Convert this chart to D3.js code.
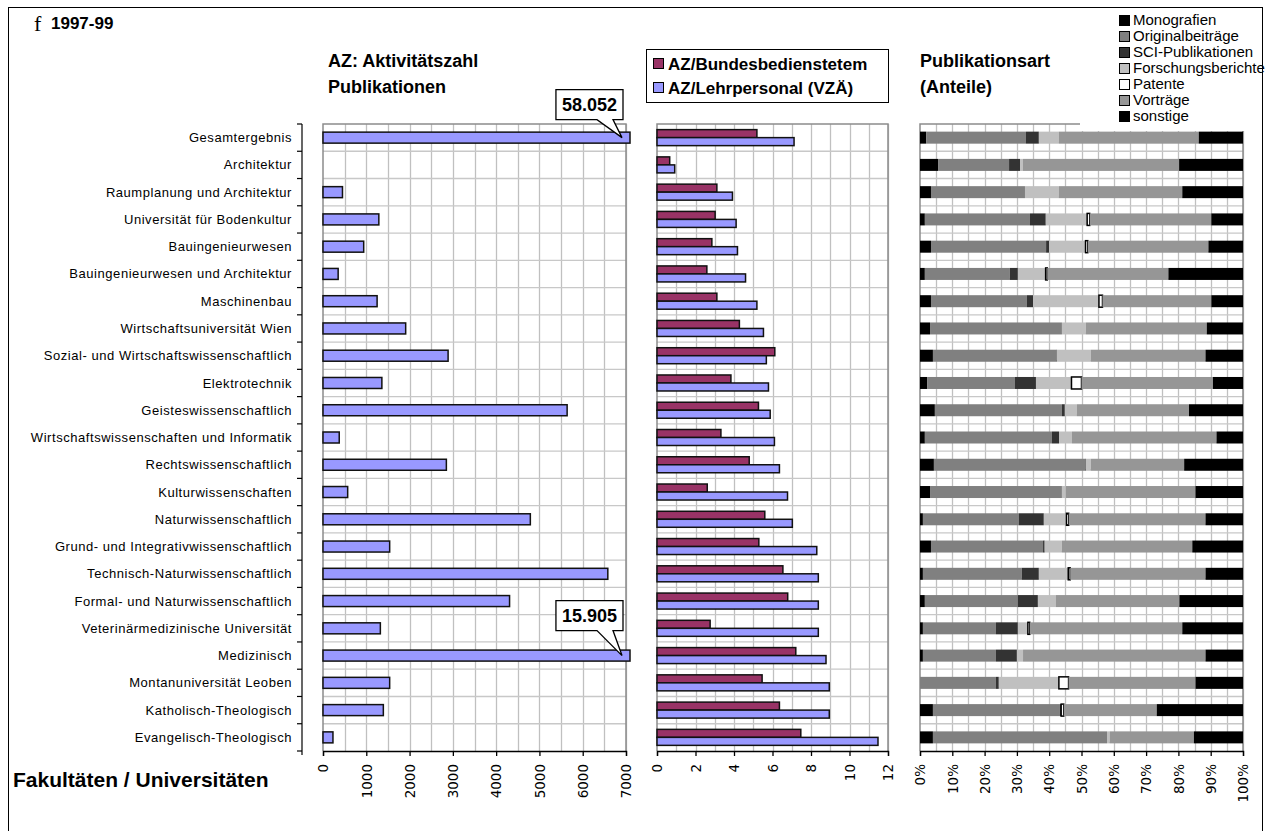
<!DOCTYPE html>
<html>
<head>
<meta charset="utf-8">
<script src="https://cdn.jsdelivr.net/npm/d3@7"></script>
<style>
  body { margin: 0; background: #fff; }
  text { font-family: "Liberation Sans", Arial, sans-serif; }
  .narrow { font-family: "Liberation Sans Narrow", "Arial Narrow", "Liberation Sans", sans-serif; font-weight: bold; }
</style>
</head>
<body>
<div id="chart"></div>
<script>
// data
var categories = ["Gesamtergebnis", "Architektur", "Raumplanung und Architektur", "Universität für Bodenkultur",
  "Bauingenieurwesen", "Bauingenieurwesen und Architektur", "Maschinenbau", "Wirtschaftsuniversität Wien",
  "Sozial- und Wirtschaftswissenschaftlich", "Elektrotechnik", "Geisteswissenschaftlich",
  "Wirtschaftswissenschaften und Informatik", "Rechtswissenschaftlich", "Kulturwissenschaften",
  "Naturwissenschaftlich", "Grund- und Integrativwissenschaftlich", "Technisch-Naturwissenschaftlich",
  "Formal- und Naturwissenschaftlich", "Veterinärmedizinische Universität", "Medizinisch",
  "Montanuniversität Leoben", "Katholisch-Theologisch", "Evangelisch-Theologisch"];

var azValues = [58052, 0, 450, 1290, 940, 350, 1250, 1910, 2890, 1360, 5640, 375, 2850, 570,
  4790, 1540, 6580, 4310, 1325, 15905, 1540, 1394, 230];

var azBund = [5.19, 0.66, 3.11, 3.02, 2.85, 2.59, 3.11, 4.28, 6.12, 3.84, 5.27, 3.32, 4.79, 2.61,
  5.6, 5.29, 6.54, 6.79, 2.76, 7.21, 5.46, 6.36, 7.47];
var azLehr = [7.12, 0.92, 3.92, 4.11, 4.18, 4.6, 5.19, 5.53, 5.68, 5.79, 5.88, 6.1, 6.36, 6.78,
  7.03, 8.3, 8.38, 8.38, 8.38, 8.78, 8.95, 8.95, 11.48];

var pubTypes = ["Monografien", "Originalbeiträge", "SCI-Publikationen", "Forschungsberichte", "Patente", "Vorträge", "sonstige"];
var monografien = [1.9, 5.6, 3.4, 1.5, 3.4, 1.5, 3.4, 3.1, 4.0, 2.2, 4.6, 1.5, 4.3, 3.1, 0.9, 3.4, 0.9, 1.5, 0.9, 0.9, 0, 4.0, 4.0];
var originalbeitraege = [30.9, 22.0, 29.1, 32.5, 35.6, 26.3, 29.7, 40.8, 38.1, 27.2, 39.3, 39.3, 46.8, 40.8, 29.7, 34.7, 30.6, 28.8, 22.6, 22.6, 23.5, 39.3, 53.9];
var sciPublikationen = [4.0, 3.4, 0, 4.9, 0.9, 2.5, 1.9, 0, 0.2, 6.5, 0.9, 2.2, 0.2, 0, 7.7, 0.5, 5.3, 6.2, 6.8, 6.5, 0.9, 0.4, 0];
var forschungsberichte = [6.2, 0.9, 10.5, 12.8, 11.3, 8.6, 20.4, 7.4, 10.5, 11.0, 3.7, 4.0, 1.5, 1.2, 7.0, 5.3, 9.1, 5.6, 3.1, 1.9, 18.6, 0, 0.8];
var patente = [0, 0, 0, 0.8, 0.7, 0.5, 1.1, 0, 0, 3.1, 0, 0, 0, 0, 0.7, 0, 0.6, 0, 0.6, 0, 3.0, 0.8, 0];
var vortraege = [43.3, 48.4, 38.2, 37.6, 37.3, 37.5, 33.7, 37.4, 35.5, 40.7, 34.7, 44.7, 28.9, 40.1, 42.3, 40.4, 41.9, 38.2, 47.2, 56.5, 39.3, 28.8, 26.1];
var sonstige = [13.7, 19.8, 18.8, 9.8, 10.7, 23.1, 9.8, 11.2, 11.6, 9.3, 16.7, 8.2, 18.2, 14.7, 11.6, 15.7, 11.6, 19.7, 18.8, 11.6, 14.7, 26.7, 15.2];

var azTicks = [0, 1000, 2000, 3000, 4000, 5000, 6000, 7000];
var ratioTicks = [0, 2, 4, 6, 8, 10, 12];
var pctTicks = [0, 0.1, 0.2, 0.3, 0.4, 0.5, 0.6, 0.7, 0.8, 0.9, 1];
var ratioNames = ["AZ/Bundesbedienstetem", "AZ/Lehrpersonal (VZÄ)"];

// layout
var W = 1266, H = 831;
var plotTop = 124, plotBottom = 751;

var svg = d3.select("#chart").append("svg")
    .attr("width", W).attr("height", H);

svg.append("rect").attr("x", 8.5).attr("y", 7.5).attr("width", 1254).attr("height", 840)
    .attr("fill", "none").attr("stroke", "#000").attr("stroke-width", 1);

var y = d3.scaleBand().domain(categories).range([plotTop, plotBottom]).paddingInner(0).paddingOuter(0);
var band = y.bandwidth();

var deFormat = d3.formatLocale({decimal: ",", thousands: ".", grouping: [3], currency: ["", "€"]}).format(",");

// helper for a plot area with grid and bottom axis
function plotArea(x, minorStep, ticks, fmt, hLines) {
  var g = svg.append("g");
  var x0 = x.range()[0], x1 = x.range()[1];
  g.append("rect").attr("x", x0).attr("y", plotTop).attr("width", x1 - x0).attr("height", plotBottom - plotTop)
      .attr("fill", "#fff");
  // vertical grid
  var d = x.domain();
  var minor = d3.range(d[0] + minorStep, d[1] + minorStep / 2, minorStep);
  g.selectAll(".vg").data(minor).enter().append("line")
      .attr("x1", function(v) { return Math.round(x(v)) + 0.5; })
      .attr("x2", function(v) { return Math.round(x(v)) + 0.5; })
      .attr("y1", plotTop).attr("y2", plotBottom)
      .attr("stroke", "#c0c0c0").attr("stroke-width", 1.3);
  // horizontal grid
  g.selectAll(".hg").data(hLines).enter().append("line")
      .attr("x1", x0).attr("x2", x1)
      .attr("y1", function(v) { return v; }).attr("y2", function(v) { return v; })
      .attr("stroke", "#c8c8c8").attr("stroke-width", 1.3);
  // frame
  g.append("path")
      .attr("d", "M" + x0 + "," + plotBottom + "V" + plotTop + "H" + x1 + "V" + plotBottom)
      .attr("fill", "none").attr("stroke", "#8c8c8c").attr("stroke-width", 1.5);
  // bottom axis
  var ax = svg.append("g").attr("transform", "translate(0," + plotBottom + ")")
      .call(d3.axisBottom(x).tickValues(ticks).tickSize(5).tickFormat(fmt));
  ax.select(".domain").attr("stroke", "#000").attr("stroke-width", 1.3);
  ax.selectAll(".tick line").attr("stroke", "#000").attr("stroke-width", 1.3);
  ax.selectAll(".tick text")
      .attr("transform", "rotate(-90)")
      .attr("x", -13).attr("y", 0).attr("dy", "0.35em")
      .attr("text-anchor", "end")
      .style("font-family", "'DejaVu Sans', sans-serif")
      .style("font-size", "13.5px")
      .attr("fill", "#000");
  return g;
}

var boundaries = categories.map(function(c) { return y(c) + band; });

// ---------- left panel: AZ ----------
var xAZ = d3.scaleLinear().domain([0, 7000]).range([323, 626]);
var gAZ = plotArea(xAZ, 500, azTicks, function(d) { return d; }, boundaries.slice(0, -1));

var azBarH = 11;
gAZ.selectAll(".az").data(categories.map(function(c, i) { return {cat: c, v: azValues[i]}; }))
  .enter().append("rect")
    .filter(function(d) { return d.v > 0; })
    .attr("x", xAZ(0))
    .attr("y", function(d) { return y(d.cat) + band / 2 - azBarH / 2; })
    .attr("width", function(d) { return Math.min(xAZ(d.v), xAZ(7000) + 4) - xAZ(0); })
    .attr("height", azBarH)
    .attr("fill", "#9999ff").attr("stroke", "#111").attr("stroke-width", 1.5);

// callouts for the bars cut off at the axis end
var callouts = [{cat: "Gesamtergebnis", rise: 18}, {cat: "Medizinisch", rise: 25}];
callouts.forEach(function(c) {
  var i = categories.indexOf(c.cat);
  var tipX = xAZ(7000) - 4, tipY = y(c.cat) + band / 2;
  var g = svg.append("g");
  var t = g.append("text").attr("class", "narrow").style("font-size", "18px")
      .text(deFormat(azValues[i]));
  var bw = t.node().getComputedTextLength() + 12, bh = 30;
  var bx = tipX - bw + 1, by = tipY - c.rise - bh;
  g.insert("path", "text")
      .attr("d", "M" + bx + "," + by + "H" + (bx + bw) + "V" + (by + bh) + "H" + (bx + bw - 10) +
        "L" + tipX + "," + tipY + "L" + (bx + bw - 26) + "," + (by + bh) + "H" + bx + "Z")
      .attr("fill", "#fff").attr("stroke", "#000").attr("stroke-width", 1.3);
  t.attr("x", bx + bw / 2).attr("y", by + bh / 2).attr("dy", "0.36em").attr("text-anchor", "middle");
});

// category axis
var catAxis = svg.append("g").attr("transform", "translate(302,0)");
catAxis.append("line").attr("x1", 0).attr("x2", 0).attr("y1", plotTop).attr("y2", plotBottom + 4)
    .attr("stroke", "#000").attr("stroke-width", 1.2);
catAxis.selectAll(".ct").data([plotTop].concat(boundaries)).enter().append("line")
    .attr("x1", -5).attr("x2", 0)
    .attr("y1", function(v) { return v; }).attr("y2", function(v) { return v; })
    .attr("stroke", "#000").attr("stroke-width", 1.2);
catAxis.selectAll(".cl").data(categories).enter().append("text")
    .attr("x", -10).attr("y", function(c) { return y(c) + band / 2; }).attr("dy", "0.35em")
    .attr("text-anchor", "end")
    .style("font-size", "13px").style("letter-spacing", "0.55px")
    .text(function(c) { return c; });

// ---------- middle panel: AZ ratios ----------
var xR = d3.scaleLinear().domain([0, 12]).range([657, 888]);
var gR = plotArea(xR, 1, ratioTicks, function(d) { return d; }, boundaries.slice(0, -1));
var rBarH = 8;
var ratioSeries = [azBund, azLehr];
var ratioColors = ["#993366", "#9999ff"];
ratioSeries.forEach(function(series, s) {
  gR.selectAll(".r" + s).data(series).enter().append("rect")
      .attr("x", xR(0))
      .attr("y", function(v, i) { return y(categories[i]) + band / 2 - rBarH + s * rBarH; })
      .attr("width", function(v) { return xR(v) - xR(0); })
      .attr("height", rBarH)
      .attr("fill", ratioColors[s]).attr("stroke", "#111").attr("stroke-width", 1.5);
});

// ratio legend
var lg = svg.append("g");
lg.append("rect").attr("x", 646.5).attr("y", 49.5).attr("width", 242).attr("height", 53)
    .attr("fill", "#fff").attr("stroke", "#000").attr("stroke-width", 1);
ratioNames.forEach(function(n, i) {
  lg.append("rect").attr("x", 653.5).attr("y", 58.5 + i * 24).attr("width", 10).attr("height", 10)
      .attr("fill", ratioColors[i]).attr("stroke", "#000").attr("stroke-width", 1);
  lg.append("text").attr("class", "narrow").attr("x", 668).attr("y", 63.5 + i * 24).attr("dy", "0.36em")
      .style("font-size", "17px").text(n);
});

// ---------- right panel: publication types ----------
var xP = d3.scaleLinear().domain([0, 1]).range([920, 1243]);
var hLinesP = [];
categories.forEach(function(c, i) {
  hLinesP.push(y(c) + band * 0.68);
  if (i < categories.length - 1) hLinesP.push(y(c) + band);
});
var gP = plotArea(xP, 0.05, pctTicks, d3.format(".0%"), hLinesP);

var pubSeries = [monografien, originalbeitraege, sciPublikationen, forschungsberichte, patente, vortraege, sonstige];
var pubColors = ["#000000", "#808080", "#333333", "#c0c0c0", "#ffffff", "#969696", "#000000"];
var rows = categories.map(function(c, i) {
  var r = {cat: c};
  pubTypes.forEach(function(p, k) { r[p] = pubSeries[k][i]; });
  return r;
});
var stacked = d3.stack().keys(pubTypes).offset(d3.stackOffsetExpand)(rows);
var pBarH = 12;
stacked.forEach(function(layer, k) {
  gP.selectAll(".p" + k).data(layer).enter().append("rect")
      .filter(function(d) { return d[1] - d[0] > 0; })
      .attr("x", function(d) { return xP(d[0]); })
      .attr("y", function(d) { return y(d.data.cat) + band / 2 - pBarH / 2; })
      .attr("width", function(d) { return xP(d[1]) - xP(d[0]); })
      .attr("height", pBarH)
      .attr("fill", pubColors[k])
      .attr("stroke", pubTypes[k] === "Patente" ? "#000" : "none")
      .attr("stroke-width", 1.5);
});

// pub legend
var pl = svg.append("g");
pl.append("rect").attr("x", 1080).attr("y", 9).attr("width", 182).attr("height", 122).attr("fill", "#fff");
pubTypes.forEach(function(p, k) {
  var ly = 20 + k * 16;
  pl.append("rect").attr("x", 1119.5).attr("y", ly - 4.5).attr("width", 10).attr("height", 10)
      .attr("fill", pubColors[k]).attr("stroke", "#000").attr("stroke-width", 1);
  pl.append("text").attr("x", 1133).attr("y", ly).attr("dy", "0.36em")
      .style("font-size", "15px").text(p);
});

// ---------- titles ----------
svg.append("text").attr("x", 34).attr("y", 31)
    .style("font-family", "'Liberation Serif', serif").style("font-size", "22px").text("f");
svg.append("text").attr("class", "narrow").attr("x", 51).attr("y", 29)
    .style("font-size", "17px").text("1997-99");
svg.append("text").attr("class", "narrow").attr("x", 328).attr("y", 67)
    .style("font-size", "18px").text("AZ: Aktivitätszahl");
svg.append("text").attr("class", "narrow").attr("x", 328).attr("y", 93)
    .style("font-size", "18px").text("Publikationen");
svg.append("text").attr("class", "narrow").attr("x", 920).attr("y", 67)
    .style("font-size", "18px").text("Publikationsart");
svg.append("text").attr("class", "narrow").attr("x", 920).attr("y", 93)
    .style("font-size", "18px").text("(Anteile)");
svg.append("text").attr("class", "narrow").attr("x", 13).attr("y", 787)
    .style("font-size", "21px").text("Fakultäten / Universitäten");
</script>
</body>
</html>
